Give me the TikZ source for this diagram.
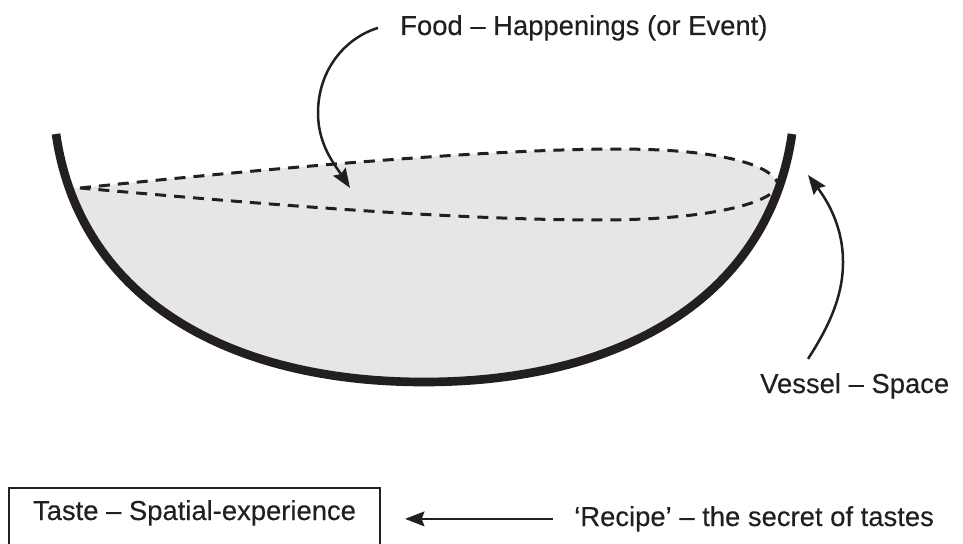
\documentclass[tikz,border=0pt]{standalone}
\usepackage{fontspec}
\setmainfont{Liberation Sans}[FakeBold=0.3]
\usetikzlibrary{arrows.meta,positioning}
\definecolor{ink}  {HTML}{231F20}
\definecolor{broth}{HTML}{E6E6E6}
\tikzset{
  lbl/.style     ={font=\fontsize{23.4}{28}\selectfont, text=ink, inner sep=0pt},
  wall/.style    ={draw=ink, line width=0.26cm},
  lens/.style    ={draw=ink, line width=0.09cm, dash pattern=on 0.33cm off 0.24cm},
  pointer/.style ={draw=ink, line width=0.075cm,
                   -{Stealth[length=0.58cm,width=0.44cm,inset=0.08cm]}},
  tastebox/.style={draw=ink, line width=0.06cm, inner sep=0.1cm,
                   font=\fontsize{23.4}{28}\selectfont, text=ink,
                   minimum width=11.13cm, text height=0.86cm, text depth=1.2cm},
}

\begin{document}
\begin{tikzpicture}[x=0.03cm,y=-0.03cm]
    \clip (0,0) rectangle (963,544);

    % broth inside the bowl
    \begin{scope}
      \clip (56,134) .. controls (80,300) and (230,382) .. (424,382)
                     .. controls (618,382) and (768,300) .. (792,134) -- cycle;
      \fill[broth] (80,188) .. controls (350,160) and (560,145) .. (660,150)
                   .. controls (740,154) and (776,170) .. (778,185)
                   -- (900,185) -- (900,450) -- (0,450) -- (0,188) -- cycle;
    \end{scope}

    % dashed food surface
    \draw[lens] (80,188) .. controls (350,160) and (560,145) .. (660,150)
                .. controls (740,154) and (776,170) .. (778,185)
                .. controls (772,205) and (700,220) .. (600,220)
                .. controls (450,220) and (250,203) .. (80,188);

    % vessel wall
    \draw[wall] (56,134) .. controls (80,300) and (230,382) .. (424,382)
                .. controls (618,382) and (768,300) .. (792,134);

    \node[lbl,anchor=base west]  (food)   at (400,35)  {Food – Happenings (or Event)};
    \node[lbl,anchor=base west]  (vessel) at (760,393) {Vessel – Space};
    \node[tastebox,anchor=base]  (taste)  at (194.5,520) {Taste – Spatial-experience};
    \node[lbl,anchor=base west]  (recipe) at (574,526) {‘Recipe’ – the secret of tastes};

    \coordinate (foodtip)   at (350,188);
    \coordinate (vesseltip) at (808,175);

    \draw[pointer] ([xshift=-0.66cm]food.west) .. controls (345,38) and (318,70) .. (318,113)
                   .. controls (318,145) and (335,165) .. (foodtip);
    \draw[pointer] ([xshift=1.44cm,yshift=0.42cm]vessel.north west) .. controls (830,325) and (843,295) .. (843,262)
                   .. controls (843,225) and (826,199) .. (vesseltip);
    \draw[pointer,shorten <=0.63cm,shorten >=0.72cm] (recipe.west) -- (recipe.west -| taste.east);
\end{tikzpicture}
\end{document}
